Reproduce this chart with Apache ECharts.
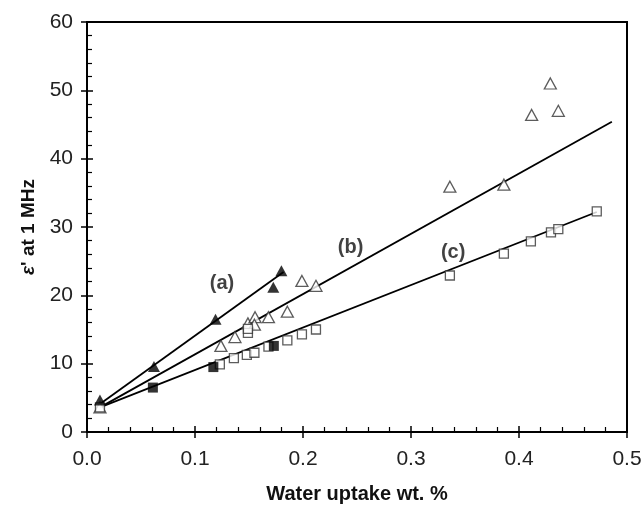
<!DOCTYPE html>
<html>
<head>
<meta charset="utf-8">
<script src="https://cdn.jsdelivr.net/npm/echarts@6/dist/echarts.min.js"></script>
<style>html,body{margin:0;padding:0;background:#fff}#c{width:643px;height:506px}</style>
</head>
<body>
<div id="c"></div>
<script>
// (a) filled triangles
const seriesA = [[0.012, 4.7], [0.062, 9.6], [0.119, 16.5], [0.1725, 21.2], [0.180, 23.6]];
// (b) open triangles
const seriesB = [[0.012, 3.6], [0.124, 12.6], [0.137, 13.9], [0.149, 15.9], [0.1556, 16.8], [0.155, 15.7],
  [0.168, 16.8], [0.1855, 17.6], [0.199, 22.1], [0.212, 21.4], [0.336, 35.9], [0.386, 36.2],
  [0.4117, 46.4], [0.429, 51.0], [0.4364, 47.0]];
// (c) open squares
const seriesC = [[0.012, 3.6], [0.123, 9.9], [0.136, 10.8], [0.148, 11.3], [0.155, 11.6], [0.149, 14.5],
  [0.149, 15.1], [0.168, 12.5], [0.1855, 13.4], [0.199, 14.3], [0.212, 15.0], [0.336, 22.9],
  [0.386, 26.1], [0.411, 27.9], [0.4296, 29.2], [0.4364, 29.7], [0.472, 32.3]];
// (c) filled squares
const seriesCFilled = [[0.061, 6.5], [0.117, 9.5], [0.173, 12.6]];
// fitted lines
const lineA = [[0.012, 4.1], [0.182, 23.4]];
const lineB = [[0.012, 3.6], [0.486, 45.4]];
const lineC = [[0.012, 3.6], [0.472, 32.2]];
// curve labels
const curveLabels = [[0.125, 21.8, '(a)'], [0.244, 27.0, '(b)'], [0.339, 26.2, '(c)']];
const xTicks = [0, 0.1, 0.2, 0.3, 0.4, 0.5];
const yTicks = [0, 10, 20, 30, 40, 50, 60];

const chart = echarts.init(document.getElementById('c'), null, {renderer: 'canvas'});
const font = 'Liberation Sans, Arial, sans-serif';
const baseX = {
  type: 'value', min: xTicks[0], max: xTicks[xTicks.length - 1], interval: 0.1,
  position: 'bottom', gridIndex: 0, splitLine: {show: false}
};
const baseY = {
  type: 'value', min: yTicks[0], max: yTicks[yTicks.length - 1], interval: 10,
  position: 'left', gridIndex: 0, splitLine: {show: false}
};
const lineStyle = {color: '#000', width: 1.8};
function fitLine(d) {
  return {type: 'line', data: d, symbol: 'none', lineStyle: lineStyle, z: 2, silent: true};
}
chart.setOption({
  animation: false,
  grid: {left: 87, right: 16, top: 22, bottom: 74, show: true, borderColor: '#000', borderWidth: 2,
    containLabel: false, outerBoundsMode: 'none'},
  xAxis: [
    Object.assign({}, baseX, {
      axisLine: {lineStyle: {color: '#000', width: 2}},
      axisTick: {inside: false, length: 6, lineStyle: {color: '#000', width: 1.5}},
      axisLabel: {margin: 17, fontSize: 21, color: '#222', fontFamily: font,
        formatter: v => v.toFixed(1)},
      name: 'Water uptake wt. %', nameLocation: 'middle', nameGap: 52,
      nameTextStyle: {fontSize: 20, fontWeight: 'bold', color: '#111', fontFamily: font}
    }),
    Object.assign({}, baseX, {
      axisLine: {show: false},
      axisTick: {inside: true, length: 6, lineStyle: {color: '#000', width: 1.5}},
      minorTick: {show: true, splitNumber: 5, length: 5, lineStyle: {color: '#000', width: 1.2}},
      axisLabel: {show: false}
    })
  ],
  yAxis: [
    Object.assign({}, baseY, {
      axisLine: {lineStyle: {color: '#000', width: 2}},
      axisTick: {inside: false, length: 6, lineStyle: {color: '#000', width: 1.5}},
      axisLabel: {margin: 14, fontSize: 21, color: '#222', fontFamily: font},
      name: "{e|ε}{n|' at 1 MHz}", nameLocation: 'middle', nameGap: 41,
      nameTextStyle: {fontSize: 19, fontWeight: 'bold', color: '#111', fontFamily: font,
        rich: {
          e: {fontSize: 19, fontStyle: 'italic', fontWeight: 'bold', color: '#111', fontFamily: font},
          n: {fontSize: 19, fontWeight: 'bold', color: '#111', fontFamily: font}
        }}
    }),
    Object.assign({}, baseY, {
      axisLine: {show: false},
      axisTick: {inside: true, length: 6, lineStyle: {color: '#000', width: 1.5}},
      minorTick: {show: true, splitNumber: 5, length: 5, lineStyle: {color: '#000', width: 1.2}},
      axisLabel: {show: false}
    })
  ],
  series: [
    fitLine(lineA), fitLine(lineB), fitLine(lineC),
    {type: 'scatter', data: seriesB, symbol: 'triangle', symbolSize: [12, 11],
      itemStyle: {color: '#fff', borderColor: '#333', borderWidth: 1.3}, z: 3},
    {type: 'scatter', data: seriesC, symbol: 'rect', symbolSize: 9,
      itemStyle: {color: '#fff', borderColor: '#333', borderWidth: 1.3}, z: 3},
    {type: 'scatter', data: seriesCFilled, symbol: 'rect', symbolSize: 10,
      itemStyle: {color: '#000'}, z: 4},
    {type: 'scatter', data: seriesA, symbol: 'triangle', symbolSize: [12, 11],
      itemStyle: {color: '#000'}, z: 4},
    {type: 'scatter', data: curveLabels.map(d => [d[0], d[1], d[2]]), symbolSize: 0, z: 5,
      label: {show: true, position: 'inside', formatter: p => p.data[2], fontSize: 20,
        fontWeight: 'bold', color: '#111', fontFamily: font}}
  ]
});
</script>
</body>
</html>
